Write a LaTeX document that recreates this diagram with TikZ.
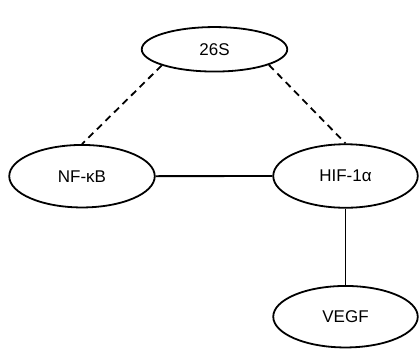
\documentclass[tikz,border=0pt]{standalone}
\usepackage{fontspec}
\setmainfont{Liberation Sans}
\usetikzlibrary{shapes.geometric}
\begin{document}
\begin{tikzpicture}[x=1pt,y=-1pt,
  prot/.style={draw,ellipse,line width=1.8pt,inner sep=0pt,font=\fontsize{17}{20}\selectfont},
  link/.style={line width=1.8pt},
  dlink/.style={line width=1.8pt,dash pattern=on 7pt off 5pt}]
\useasboundingbox (0,0) rectangle (419,349);
\node[prot,minimum width=145.5pt,minimum height=44.5pt] (s26) at (214.5,49.3) {26S};
\node[prot,minimum width=145.5pt,minimum height=62.5pt] (nf) at (82,176.2) {NF-κB};
\node[prot,minimum width=144.5pt,minimum height=63.5pt] (hif) at (345.5,176) {HIF-1α};
\node[prot,minimum width=144.5pt,minimum height=61.5pt] (vegf) at (345.5,316.7) {VEGF};
\draw[dlink] (s26.197) -- (nf.north);
\draw[dlink] (s26.344) -- (hif.north);
\draw[link] (nf) -- (hif);
\draw[link] (hif) -- (vegf);
\end{tikzpicture}
\end{document}
